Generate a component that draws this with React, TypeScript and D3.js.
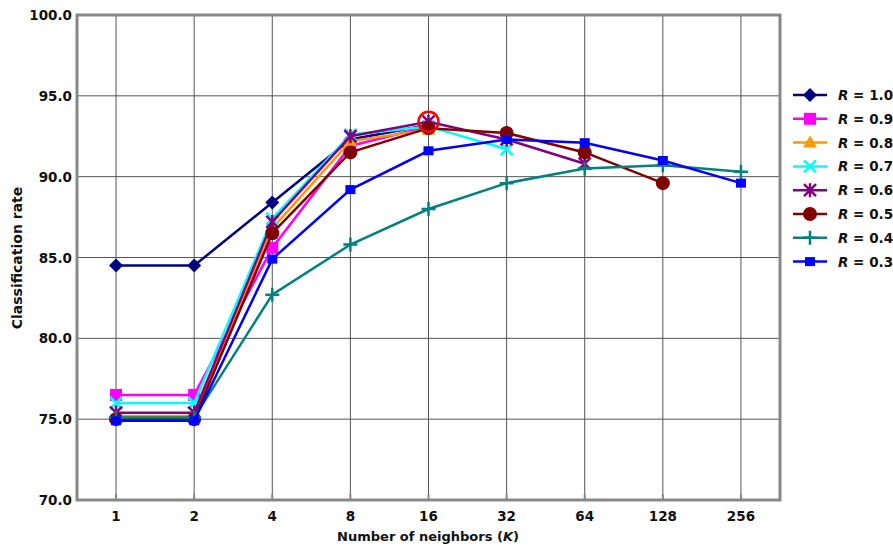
import React from "react";
import * as d3 from "d3";

const categories = ["1", "2", "4", "8", "16", "32", "64", "128", "256"];
const yTicks = [70, 75, 80, 85, 90, 95, 100];

const seriesNames = ["1.0", "0.9", "0.8", "0.7", "0.6", "0.5", "0.4", "0.3"];
const r10 = [84.5, 84.5, 88.4, 92.3, 93.2];
const r09 = [76.5, 76.5, 85.6, 91.9, 93.1];
const r08 = [75.2, 75.2, 86.8, 92.2, 92.9];
const r07 = [76.0, 76.0, 87.4, 92.6, 93.1, 91.7];
const r06 = [75.4, 75.4, 87.2, 92.5, 93.4, 92.3, 90.8];
const r05 = [75.0, 75.0, 86.5, 91.5, 93.0, 92.7, 91.5, 89.6];
const r04 = [75.1, 75.1, 82.7, 85.8, 88.0, 89.6, 90.5, 90.7, 90.3];
const r03 = [74.9, 74.9, 84.9, 89.2, 91.6, 92.3, 92.1, 91.0, 89.6];
const seriesValues = [r10, r09, r08, r07, r06, r05, r04, r03];
const colors = ["#000080", "#FF00FF", "#FF9900", "#00FFFF", "#800080", "#800000", "#008080", "#0000FF"];
const markers = ["diamond", "square", "triangle", "x", "asterisk", "circle", "plus", "smallsquare"];

const W = 893, H = 546;
const L = 77, R = 780, T = 15, B = 500;

function Marker({ type, x, y, color }: { type: string; x: number; y: number; color: string }) {
  switch (type) {
    case "diamond":
      return <path d={`M${x},${y - 7}L${x + 7},${y}L${x},${y + 7}L${x - 7},${y}Z`} fill={color} />;
    case "square":
      return <rect x={x - 6} y={y - 6} width={12} height={12} fill={color} />;
    case "triangle":
      return <path d={`M${x},${y - 7}L${x + 7},${y + 5}L${x - 7},${y + 5}Z`} fill={color} />;
    case "x":
      return <path d={`M${x - 6},${y - 6}L${x + 6},${y + 6}M${x + 6},${y - 6}L${x - 6},${y + 6}`} stroke={color} strokeWidth={2.5} />;
    case "asterisk":
      return <path d={`M${x - 6},${y - 6}L${x + 6},${y + 6}M${x + 6},${y - 6}L${x - 6},${y + 6}M${x},${y - 7}L${x},${y + 7}`} stroke={color} strokeWidth={2.5} />;
    case "circle":
      return <circle cx={x} cy={y} r={7} fill={color} />;
    case "plus":
      return <path d={`M${x - 7},${y}L${x + 7},${y}M${x},${y - 7}L${x},${y + 7}`} stroke={color} strokeWidth={2.5} />;
    case "smallsquare":
      return <rect x={x - 5} y={y - 4.5} width={10} height={9} fill={color} />;
  }
  return null;
}

export default function App() {
  const x = d3.scalePoint<string>().domain(categories).range([L, R]).padding(0.5);
  const y = d3.scaleLinear().domain([70, 100]).range([B, T]);
  const line = d3.line<number>().x((_, i) => x(categories[i])!).y((v) => y(v));
  const font = "'DejaVu Sans', Verdana, sans-serif";
  const legendY0 = 95, legendStep = 23.8;

  return (
    <svg width={W} height={H} style={{ position: "absolute", left: 0, top: 0, background: "#fff" }} fontFamily={font}>
      <rect x={0} y={0} width={W} height={H} fill="#fff" />
      {yTicks.slice(1, -1).map((t) => (
        <line key={t} x1={L} x2={R} y1={y(t)} y2={y(t)} stroke="#555" strokeWidth={1} />
      ))}
      {categories.map((c) => (
        <line key={c} x1={x(c)} x2={x(c)} y1={T} y2={B} stroke="#555" strokeWidth={1} />
      ))}
      {categories.map((c) => (
        <line key={"t" + c} x1={x(c)} x2={x(c)} y1={B - 6} y2={B} stroke="#888" strokeWidth={2} />
      ))}
      <rect x={L} y={T} width={R - L} height={B - T} fill="none" stroke="#888" strokeWidth={3} />
      {yTicks.map((t) => (
        <text key={t} x={72} y={y(t) + 5} textAnchor="end" fontSize={13.5} fontWeight="bold" fill="#111">
          {t.toFixed(1)}
        </text>
      ))}
      {categories.map((c) => (
        <text key={"l" + c} x={x(c)} y={521} textAnchor="middle" fontSize={13.5} fontWeight="bold" fill="#111">
          {c}
        </text>
      ))}
      <text x={428} y={541} textAnchor="middle" fontSize={13} fontWeight="bold" fill="#111">
        Number of neighbors (<tspan fontStyle="italic">K</tspan>)
      </text>
      <text transform={`translate(22,258) rotate(-90)`} textAnchor="middle" fontSize={14} fontWeight="bold" fill="#111">
        Classification rate
      </text>
      {seriesValues.map((vals, si) => (
        <g key={si}>
          <path d={line(vals) || ""} fill="none" stroke={colors[si]} strokeWidth={2.5} />
          {vals.map((v, i) => (
            <Marker key={i} type={markers[si]} x={x(categories[i])!} y={y(v)} color={colors[si]} />
          ))}
        </g>
      ))}
      <circle cx={x("16")!} cy={y(93.4)} r={10} fill="none" stroke="#FF0000" strokeWidth={2.5} />
      {seriesNames.map((n, i) => {
        const ly = legendY0 + i * legendStep;
        return (
          <g key={n}>
            <line x1={793} x2={827} y1={ly} y2={ly} stroke={colors[i]} strokeWidth={2.5} />
            <Marker type={markers[i]} x={810} y={ly} color={colors[i]} />
            <text x={838} y={ly + 5} fontSize={13.5} fontWeight="bold" fill="#111">
              <tspan fontStyle="italic">R</tspan> = {n}
            </text>
          </g>
        );
      })}
    </svg>
  );
}
